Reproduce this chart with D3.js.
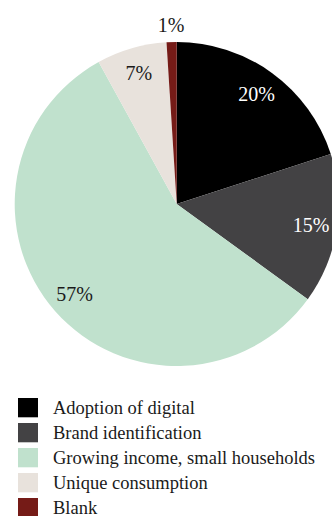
<!DOCTYPE html>
<html>
<head>
<meta charset="utf-8">
<script src="https://cdn.jsdelivr.net/npm/d3@7"></script>
<style>
  html, body { margin: 0; padding: 0; background: #ffffff; }
  svg { display: block; }
  text { font-family: "Liberation Serif", "Times New Roman", serif; }
</style>
</head>
<body>
<svg id="chart" width="332" height="516"></svg>
<script>
// Share of responses by driver (percent)
const categories = [
  "Adoption of digital",
  "Brand identification",
  "Growing income, small households",
  "Unique consumption",
  "Blank"
];
const values = [20, 15, 57, 7, 1];
const colors = ["#000000", "#434244", "#c0e1cd", "#e8e2dc", "#751b17"];
const labelColors = ["#ffffff", "#ffffff", "#1a1a1a", "#1a1a1a", "#1a1a1a"];

const data = categories.map((c, i) => ({ category: c, value: values[i], color: colors[i], labelColor: labelColors[i] }));

const svg = d3.select("#chart");

const cx = 176.7, cy = 204, radius = 162;

const pie = d3.pie()
  .sort(null)
  .value(d => d.value);

const arcs = pie(data);

const arc = d3.arc()
  .innerRadius(0)
  .outerRadius(radius);

const g = svg.append("g").attr("transform", `translate(${cx},${cy})`);

g.selectAll("path.slice")
  .data(arcs)
  .join("path")
  .attr("class", "slice")
  .attr("d", arc)
  .attr("fill", d => d.data.color);

// Percentage labels: inside the slice, tiny slices pushed outside the rim
const isTiny = d => (d.endAngle - d.startAngle) < 0.1;
const labelRadius = d => isTiny(d) ? 179 : 136;

g.selectAll("text.pct")
  .data(arcs)
  .join("text")
  .attr("class", "pct")
  .each(function(d) {
    const a = (d.startAngle + d.endAngle) / 2;
    const r = labelRadius(d);
    d3.select(this)
      .attr("x", Math.sin(a) * r)
      .attr("y", -Math.cos(a) * r);
  })
  .attr("text-anchor", "middle")
  .attr("dominant-baseline", "central")
  .attr("font-size", 20)
  .attr("fill", d => isTiny(d) ? "#1a1a1a" : d.data.labelColor)
  .text(d => `${d.data.value}%`);

// Legend
const legendY = d3.scaleBand()
  .domain(categories)
  .range([398, 398 + 25 * categories.length]);

const legend = svg.append("g");
const rows = legend.selectAll("g.row")
  .data(data)
  .join("g")
  .attr("class", "row")
  .attr("transform", d => `translate(18,${legendY(d.category)})`);

rows.append("rect")
  .attr("width", 20)
  .attr("height", 19.3)
  .attr("fill", d => d.color);

rows.append("text")
  .attr("x", 35)
  .attr("y", 15.5)
  .attr("font-size", 18.5)
  .attr("fill", "#1a1a1a")
  .text(d => d.category);
</script>
</body>
</html>
